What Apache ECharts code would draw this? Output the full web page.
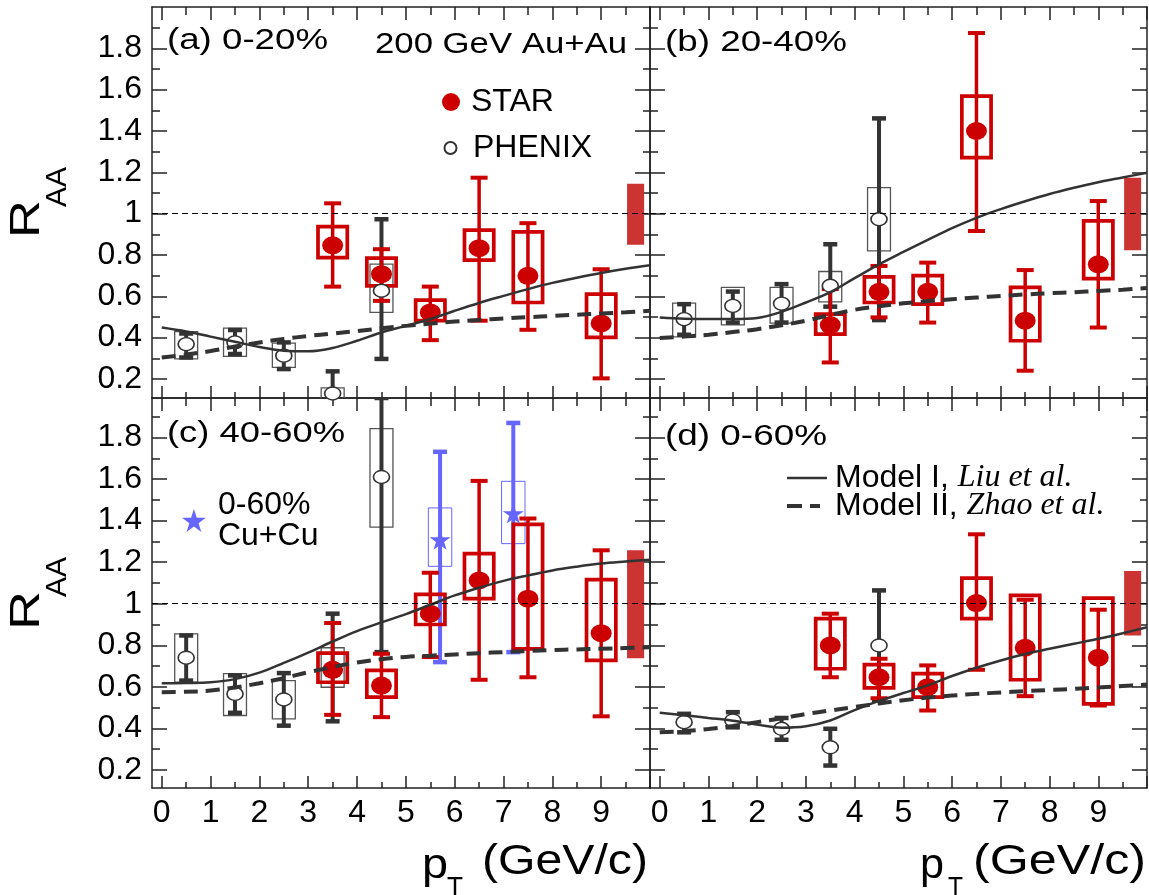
<!DOCTYPE html>
<html><head><meta charset="utf-8">
<script src="https://cdn.jsdelivr.net/npm/echarts@6/dist/echarts.min.js"></script>
<style>html,body{margin:0;padding:0;background:#fff}#chart{width:1149px;height:895px}</style>
</head><body><div id="chart"></div><script>
// ---------------- data ----------------
const Y_MAJOR = [0.2, 0.4, 0.6, 0.8, 1.0, 1.2, 1.4, 1.6, 1.8];
const Y_MINOR = [0.3, 0.5, 0.7, 0.9, 1.1, 1.3, 1.5, 1.7, 1.9];
const X_MAJOR = [0, 1, 2, 3, 4, 5, 6, 7, 8, 9, 10];
const X_MINOR = [0.5, 1.5, 2.5, 3.5, 4.5, 5.5, 6.5, 7.5, 8.5, 9.5];
const X_LABELS = [0, 1, 2, 3, 4, 5, 6, 7, 8, 9];
const PANEL_LABELS = ['(a) 0-20%', '(b) 20-40%', '(c) 40-60%', '(d) 0-60%'];

const PT_PHENIX = [0.5, 1.5, 2.5, 3.5, 4.5];
const PT_STAR = [3.5, 4.5, 5.5, 6.5, 7.5, 9.0];
const PT_CUCU = [5.7, 7.2];
const PT_MODEL = [0, 0.5, 1, 1.5, 2, 2.5, 3, 3.5, 4, 4.5, 5, 5.5, 6, 6.5, 7, 7.5, 8, 8.5, 9, 9.5, 10];

// (a) 0-20%
const A_PHENIX_VAL = [0.369, 0.377, 0.313, 0.13, 0.627];
const A_PHENIX_STAT = [[0.304, 0.42], [0.321, 0.437], [0.248, 0.377], [0.02, 0.237], [0.297, 0.973]];
const A_PHENIX_SYS = [[0.297, 0.429], [0.309, 0.446], [0.256, 0.374], [0.10, 0.157], [0.522, 0.756]];
const A_STAR_VAL = [0.847, 0.707, 0.522, 0.833, 0.699, 0.469];
const A_STAR_STAT = [[0.647, 1.05], [0.578, 0.828], [0.388, 0.647], [0.482, 1.174], [0.438, 0.954], [0.203, 0.731]];
const A_STAR_SYS = [[0.787, 0.937], [0.651, 0.785], [0.482, 0.582], [0.775, 0.92], [0.57, 0.912], [0.401, 0.611]];
const A_NORM = [0.85, 1.145];
const A_MODEL1 = [0.449, 0.43, 0.405, 0.38, 0.355, 0.337, 0.334, 0.35, 0.385, 0.425, 0.457, 0.49, 0.53, 0.568, 0.602, 0.635, 0.665, 0.69, 0.713, 0.733, 0.75];
const A_MODEL2 = [0.304, 0.318, 0.335, 0.357, 0.377, 0.394, 0.408, 0.42, 0.432, 0.445, 0.457, 0.468, 0.478, 0.486, 0.493, 0.499, 0.505, 0.511, 0.517, 0.523, 0.53];

// (b) 20-40%
const B_PHENIX_VAL = [0.49, 0.554, 0.565, 0.651, 0.973];
const B_PHENIX_STAT = [[0.414, 0.562], [0.473, 0.623], [0.473, 0.659], [0.55, 0.852], [0.485, 1.461]];
const B_PHENIX_SYS = [[0.404, 0.567], [0.462, 0.643], [0.47, 0.643], [0.573, 0.72], [0.82, 1.126]];
const B_STAR_VAL = [0.461, 0.622, 0.622, 1.40, 0.482, 0.755];
const B_STAR_STAT = [[0.28, 0.635], [0.498, 0.747], [0.473, 0.763], [0.916, 1.874], [0.24, 0.727], [0.449, 1.061]];
const B_STAR_SYS = [[0.417, 0.514], [0.57, 0.694], [0.562, 0.70], [1.271, 1.569], [0.385, 0.643], [0.686, 0.965]];
const B_NORM = [0.823, 1.174];
const B_MODEL1 = [0.498, 0.492, 0.49, 0.49, 0.495, 0.525, 0.57, 0.62, 0.688, 0.755, 0.815, 0.873, 0.93, 0.98, 1.022, 1.06, 1.095, 1.125, 1.152, 1.175, 1.198];
const B_MODEL2 = [0.398, 0.405, 0.414, 0.427, 0.441, 0.46, 0.482, 0.51, 0.535, 0.552, 0.566, 0.577, 0.586, 0.594, 0.602, 0.609, 0.615, 0.62, 0.626, 0.632, 0.64];

// (c) 40-60%
const C_PHENIX_VAL = [0.74, 0.566, 0.539, 0.69, 1.61];
const C_PHENIX_STAT = [[0.63, 0.847], [0.475, 0.655], [0.413, 0.666], [0.434, 0.952], [0.767, 1.99]];
const C_PHENIX_SYS = [[0.622, 0.855], [0.462, 0.663], [0.446, 0.63], [0.598, 0.788], [1.369, 1.843]];
const C_STAR_VAL = [0.682, 0.606, 0.952, 1.112, 1.024, 0.858];
const C_STAR_STAT = [[0.465, 0.907], [0.454, 0.759], [0.743, 1.149], [0.634, 1.591], [0.646, 1.41], [0.458, 1.257]];
const C_STAR_SYS = [[0.622, 0.762], [0.55, 0.679], [0.9, 1.045], [1.024, 1.241], [0.783, 1.382], [0.727, 1.116]];
const C_CUCU_VAL = [1.308, 1.434];
const C_CUCU_STAT = [[0.719, 1.731], [0.767, 1.87]];
const C_CUCU_SYS = [[1.18, 1.461], [1.289, 1.589]];
const C_NORM = [0.738, 1.257];
const C_MODEL1 = [0.617, 0.618, 0.622, 0.637, 0.668, 0.715, 0.765, 0.818, 0.868, 0.91, 0.95, 0.995, 1.04, 1.077, 1.11, 1.136, 1.16, 1.178, 1.193, 1.203, 1.212];
const C_MODEL2 = [0.574, 0.576, 0.582, 0.597, 0.617, 0.642, 0.67, 0.695, 0.717, 0.733, 0.744, 0.75, 0.756, 0.762, 0.767, 0.772, 0.777, 0.78, 0.783, 0.787, 0.791];

// (d) 0-60%
const D_PHENIX_VAL = [0.43, 0.438, 0.398, 0.309, 0.799];
const D_PHENIX_STAT = [[0.381, 0.47], [0.405, 0.478], [0.345, 0.45], [0.221, 0.398], [0.535, 1.064]];
const D_STAR_VAL = [0.799, 0.646, 0.598, 1.003, 0.788, 0.74];
const D_STAR_STAT = [[0.646, 0.952], [0.545, 0.735], [0.486, 0.703], [0.682, 1.334], [0.555, 1.019], [0.51, 0.971]];
const D_STAR_SYS = [[0.687, 0.928], [0.595, 0.707], [0.55, 0.663], [0.928, 1.123], [0.634, 1.04], [0.518, 1.027]];
const D_NORM = [0.847, 1.157];
const D_MODEL1 = [0.475, 0.463, 0.45, 0.437, 0.418, 0.403, 0.41, 0.438, 0.488, 0.532, 0.57, 0.607, 0.652, 0.692, 0.727, 0.758, 0.783, 0.807, 0.831, 0.858, 0.887];
const D_MODEL2 = [0.381, 0.387, 0.397, 0.412, 0.43, 0.449, 0.469, 0.486, 0.503, 0.52, 0.535, 0.548, 0.558, 0.566, 0.573, 0.579, 0.585, 0.59, 0.597, 0.604, 0.611];

// ---------------- layout / style ----------------
const FONT = 'Liberation Sans';
const RED = '#cc0000', NORM_RED = '#cc3333', DARK = '#333333', BLUE = '#6666ff', AXIS_COLOR = '#222';
const NORM_X0 = 9.53, NORM_X1 = 9.88;
const ELLIPSE = 'path://M0,50 A50,50 0 1,1 100,50 A50,50 0 1,1 0,50 Z';
const STAR_PATH = 'path://M50,2 L61.8,38.2 L99,38.2 L69,60.3 L80.4,96.5 L50,74.2 L19.6,96.5 L31,60.3 L1,38.2 L38.2,38.2 Z';
const SOLID_ICON = 'path://M0,0 L40,0 L40,2.5 L0,2.5 Z';
const DASH_ICON = 'path://M0,0 L15,0 L15,4 L0,4 Z M23,0 L33,0 L33,4 L23,4 Z';
const GRIDS = [
  { left: 152, top: 7, width: 498, height: 391 },
  { left: 650, top: 7, width: 497, height: 391 },
  { left: 152, top: 398, width: 498, height: 390 },
  { left: 650, top: 398, width: 497, height: 390 }
];
const Y_RANGES = [[0.108, 2.0], [0.108, 2.0], [0.113, 1.99], [0.113, 1.99]];

const PANELS = [
  { phenix: [A_PHENIX_VAL, A_PHENIX_STAT, A_PHENIX_SYS], star: [A_STAR_VAL, A_STAR_STAT, A_STAR_SYS], norm: A_NORM, m1: A_MODEL1, m2: A_MODEL2 },
  { phenix: [B_PHENIX_VAL, B_PHENIX_STAT, B_PHENIX_SYS], star: [B_STAR_VAL, B_STAR_STAT, B_STAR_SYS], norm: B_NORM, m1: B_MODEL1, m2: B_MODEL2 },
  { phenix: [C_PHENIX_VAL, C_PHENIX_STAT, C_PHENIX_SYS], star: [C_STAR_VAL, C_STAR_STAT, C_STAR_SYS], norm: C_NORM, m1: C_MODEL1, m2: C_MODEL2,
    cucu: [C_CUCU_VAL, C_CUCU_STAT, C_CUCU_SYS] },
  { phenix: [D_PHENIX_VAL, D_PHENIX_STAT, null], star: [D_STAR_VAL, D_STAR_STAT, D_STAR_SYS], norm: D_NORM, m1: D_MODEL1, m2: D_MODEL2 }
];

const tickLine = { color: AXIS_COLOR, width: 1.5 };
const labelStyle = { fontSize: 32, fontFamily: FONT, color: '#000' };

const xAxes = [], yAxes = [];
GRIDS.forEach((g, gi) => {
  const bx = { type: 'value', gridIndex: gi, min: -0.2, max: 10, splitLine: { show: false }, axisLine: { show: false, onZero: false }, axisLabel: { show: false } };
  const showX = gi >= 2;
  xAxes.push(
    Object.assign({}, bx, { position: 'bottom', axisLine: { show: true, onZero: false, lineStyle: tickLine },
      axisTick: { inside: true, length: 12, customValues: X_MAJOR, lineStyle: tickLine },
      axisLabel: showX ? Object.assign({ show: true, customValues: X_LABELS, margin: 9 }, labelStyle) : { show: false } }),
    Object.assign({}, bx, { position: 'bottom', axisTick: { inside: true, length: 6, customValues: X_MINOR, lineStyle: tickLine } }),
    Object.assign({}, bx, { position: 'top', axisLine: { show: true, onZero: false, lineStyle: tickLine },
      axisTick: { inside: true, length: 13, customValues: X_MAJOR, lineStyle: tickLine } }),
    Object.assign({}, bx, { position: 'top', axisTick: { inside: true, length: 8, customValues: X_MINOR, lineStyle: tickLine } })
  );
  const by = { type: 'value', gridIndex: gi, min: Y_RANGES[gi][0], max: Y_RANGES[gi][1], splitLine: { show: false }, axisLine: { show: false, onZero: false }, axisLabel: { show: false } };
  const showY = gi % 2 === 0;
  yAxes.push(
    Object.assign({}, by, { position: 'left', axisLine: { show: true, onZero: false, lineStyle: tickLine },
      axisTick: { inside: true, length: 15, customValues: Y_MAJOR, lineStyle: tickLine },
      axisLabel: showY ? Object.assign({ show: true, customValues: Y_MAJOR, margin: 10,
        formatter: v => (Math.abs(v - 1) < 1e-9 ? '1' : Number(v).toFixed(1)) }, labelStyle) : { show: false } }),
    Object.assign({}, by, { position: 'left', axisTick: { inside: true, length: 8, customValues: Y_MINOR, lineStyle: tickLine } }),
    Object.assign({}, by, { position: 'right', axisLine: { show: true, onZero: false, lineStyle: tickLine },
      axisTick: { inside: true, length: 15, customValues: Y_MAJOR, lineStyle: tickLine } }),
    Object.assign({}, by, { position: 'right', axisTick: { inside: true, length: 7, customValues: Y_MINOR, lineStyle: tickLine } })
  );
});

function errRender(capHalf, color, lw, capW) {
  return function (params, api) {
    const x = api.value(0), lo = api.value(1), hi = api.value(2);
    const a = api.coord([x, lo]), b = api.coord([x, hi]);
    const st = { stroke: color, lineWidth: lw };
    const cs = { stroke: color, lineWidth: capW };
    return { type: 'group', children: [
      { type: 'line', shape: { x1: a[0], y1: a[1], x2: b[0], y2: b[1] }, style: st },
      { type: 'line', shape: { x1: a[0] - capHalf, y1: a[1], x2: a[0] + capHalf, y2: a[1] }, style: cs },
      { type: 'line', shape: { x1: b[0] - capHalf, y1: b[1], x2: b[0] + capHalf, y2: b[1] }, style: cs }
    ] };
  };
}
function boxRender(hw, color, lw) {
  return function (params, api) {
    const x = api.value(0), lo = api.value(1), hi = api.value(2);
    const p1 = api.coord([x - hw, hi]), p2 = api.coord([x + hw, lo]);
    return { type: 'rect', shape: { x: p1[0], y: p1[1], width: p2[0] - p1[0], height: p2[1] - p1[1] },
      style: { fill: 'none', stroke: color, lineWidth: lw } };
  };
}
function normRender(params, api) {
  const p1 = api.coord([api.value(0), api.value(3)]), p2 = api.coord([api.value(1), api.value(2)]);
  return { type: 'rect', shape: { x: p1[0], y: p1[1], width: p2[0] - p1[0], height: p2[1] - p1[1] }, style: { fill: NORM_RED } };
}
const rows = (xs, pairs) => xs.map((x, i) => [x, pairs[i][0], pairs[i][1]]);
const pts = (xs, vals) => xs.map((x, i) => [x, vals[i]]);

const series = [];
PANELS.forEach((p, gi) => {
  const ax = { xAxisIndex: 4 * gi, yAxisIndex: 4 * gi };
  series.push(Object.assign({ type: 'custom', name: 'norm', silent: true, clip: true, renderItem: normRender,
    encode: { x: [0, 1], y: [2, 3] }, data: [[NORM_X0, NORM_X1, p.norm[0], p.norm[1]]] }, ax));
  if (p.phenix[2]) series.push(Object.assign({ type: 'custom', name: 'PHENIX sys', silent: true, clip: true,
    renderItem: boxRender(0.235, '#555', 1.3), encode: { x: 0, y: [1, 2] }, data: rows(PT_PHENIX, p.phenix[2]) }, ax));
  series.push(Object.assign({ type: 'custom', name: 'PHENIX stat', silent: true, clip: true,
    renderItem: errRender(7, DARK, 4, 4.5), encode: { x: 0, y: [1, 2] }, data: rows(PT_PHENIX, p.phenix[1]) }, ax));
  series.push(Object.assign({ type: 'line', name: 'Model I', smooth: 0.35, symbol: 'none', silent: true,
    lineStyle: { color: DARK, width: 2.5 }, itemStyle: { color: DARK }, data: pts(PT_MODEL, p.m1),
    markLine: { silent: true, symbol: 'none', label: { show: false }, lineStyle: { color: '#000', width: 1, type: [6, 4] }, data: [{ yAxis: 1 }] } }, ax));
  series.push(Object.assign({ type: 'line', name: 'Model II', smooth: 0.35, symbol: 'none', silent: true,
    lineStyle: { color: DARK, width: 4, type: [14, 8] }, itemStyle: { color: DARK }, data: pts(PT_MODEL, p.m2) }, ax));
  series.push(Object.assign({ type: 'scatter', name: 'PHENIX', symbol: ELLIPSE, symbolSize: [16, 13], silent: true,
    itemStyle: { color: '#fff', borderColor: DARK, borderWidth: 1.5, opacity: 1 }, data: pts(PT_PHENIX, p.phenix[0]) }, ax));
  if (p.cucu) {
    series.push(Object.assign({ type: 'custom', name: 'CuCu sys', silent: true, clip: true,
      renderItem: boxRender(0.24, BLUE, 1), encode: { x: 0, y: [1, 2] }, data: rows(PT_CUCU, p.cucu[2]) }, ax));
    series.push(Object.assign({ type: 'custom', name: 'CuCu stat', silent: true, clip: true,
      renderItem: errRender(7, BLUE, 4, 4.5), encode: { x: 0, y: [1, 2] }, data: rows(PT_CUCU, p.cucu[1]) }, ax));
    series.push(Object.assign({ type: 'scatter', name: '0-60% Cu+Cu', symbol: STAR_PATH, symbolSize: [21, 20], silent: true,
      itemStyle: { color: BLUE, opacity: 1 }, data: pts(PT_CUCU, p.cucu[0]) }, ax));
  }
  series.push(Object.assign({ type: 'custom', name: 'STAR sys', silent: true, clip: true,
    renderItem: boxRender(0.3, RED, 3.7), encode: { x: 0, y: [1, 2] }, data: rows(PT_STAR, p.star[2]) }, ax));
  series.push(Object.assign({ type: 'custom', name: 'STAR stat', silent: true, clip: true,
    renderItem: errRender(8.5, RED, 3.5, 4), encode: { x: 0, y: [1, 2] }, data: rows(PT_STAR, p.star[1]) }, ax));
  series.push(Object.assign({ type: 'scatter', name: 'STAR', symbol: ELLIPSE, symbolSize: [21, 18], silent: true,
    itemStyle: { color: RED, opacity: 1 }, data: pts(PT_STAR, p.star[0]) }, ax));
});

// ---------------- text helpers ----------------
const mctx = document.createElement('canvas').getContext('2d');
function fitText(text, font, x0, x1, cy, extra) {
  mctx.font = font;
  const w = mctx.measureText(text).width;
  return Object.assign({ type: 'text', x: x0, y: cy, scaleX: (x1 - x0) / w, silent: true,
    style: { text: text, font: font, fill: '#000', align: 'left', verticalAlign: 'middle', textAlign: 'left', textVerticalAlign: 'middle' } }, extra || {});
}
function fitVText(text, font, cx, yStart, yEnd) {
  mctx.font = font;
  const w = mctx.measureText(text).width;
  return { type: 'text', x: cx, y: yStart, rotation: Math.PI / 2, scaleX: (yStart - yEnd) / w, silent: true,
    style: { text: text, font: font, fill: '#000', align: 'left', verticalAlign: 'middle', textAlign: 'left', textVerticalAlign: 'middle' } };
}
const F29 = '29px "Liberation Sans"', F42 = '42px "Liberation Sans"';
const graphics = [
  fitText(PANEL_LABELS[0], F29, 167, 328, 41),
  fitText('200 GeV Au+Au', F29, 375, 627, 45),
  fitText(PANEL_LABELS[1], F29, 665, 847, 43),
  fitText(PANEL_LABELS[2], F29, 167, 345, 434),
  fitText(PANEL_LABELS[3], F29, 665, 827, 437),
  // y titles
  fitVText('R', F42, 27, 238, 200),
  fitVText('AA', F29, 57.5, 207, 167),
  fitVText('R', F42, 27, 630, 591),
  fitVText('AA', F29, 57.5, 597, 557),
  // x titles
  fitText('p', F42, 422, 448, 866),
  fitText('T', '28px "Liberation Sans"', 447, 463, 888),
  fitText('(GeV/c)', F42, 482, 648, 862),
  fitText('p', F42, 920, 944, 866),
  fitText('T', '28px "Liberation Sans"', 948, 963, 888),
  fitText('(GeV/c)', F42, 973, 1146, 862)
];

const legendText = { fontSize: 32, fontFamily: FONT, color: '#000' };
const italicRich = { fontSize: 32, fontFamily: 'Liberation Serif', fontStyle: 'italic', color: '#000', lineHeight: 28 };
const option = {
  animation: false,
  backgroundColor: '#fff',
  grid: GRIDS,
  xAxis: xAxes,
  yAxis: yAxes,
  legend: [
    { data: [{ name: 'STAR', icon: ELLIPSE }], left: 437, top: 81, itemWidth: 22, itemHeight: 18, selectedMode: false,
      formatter: n => '{t|' + n + '}', textStyle: Object.assign({ rich: { t: Object.assign({ padding: [0, 0, 0, 4], lineHeight: 30 }, legendText) } }, legendText) },
    { data: [{ name: 'PHENIX', icon: ELLIPSE }], left: 438.5, top: 127, itemWidth: 13, itemHeight: 12, selectedMode: false,
      formatter: n => '{t|' + n + '}', textStyle: Object.assign({ rich: { t: Object.assign({ padding: [0, 0, 0, 11], lineHeight: 30 }, legendText) } }, legendText) },
    { data: [{ name: '0-60% Cu+Cu', icon: STAR_PATH }], left: 177, top: 484, itemWidth: 24, itemHeight: 23, selectedMode: false,
      formatter: () => '{t|0-60%}\n{t|Cu+Cu}', textStyle: Object.assign({ rich: { t: Object.assign({ padding: [0, 0, 0, 7], lineHeight: 31 }, legendText) } }, legendText) },
    { data: [{ name: 'Model I', icon: SOLID_ICON }], left: 782, top: 457, itemWidth: 40, itemHeight: 2.5, selectedMode: false,
      formatter: () => '{n|Model I, }{i|Liu et al.}',
      textStyle: Object.assign({ rich: { n: Object.assign({ padding: [0, 0, 0, 3], lineHeight: 28 }, legendText), i: italicRich } }, legendText) },
    { data: [{ name: 'Model II', icon: DASH_ICON }], left: 782, top: 485, itemWidth: 33, itemHeight: 4, selectedMode: false,
      formatter: () => '{n|Model II, }{i|Zhao et al.}',
      textStyle: Object.assign({ rich: { n: Object.assign({ padding: [0, 0, 0, 10], lineHeight: 28 }, legendText), i: italicRich } }, legendText) }
  ],
  graphic: graphics,
  series: series
};
const chart = echarts.init(document.getElementById('chart'));
chart.setOption(option);
</script></body></html>
